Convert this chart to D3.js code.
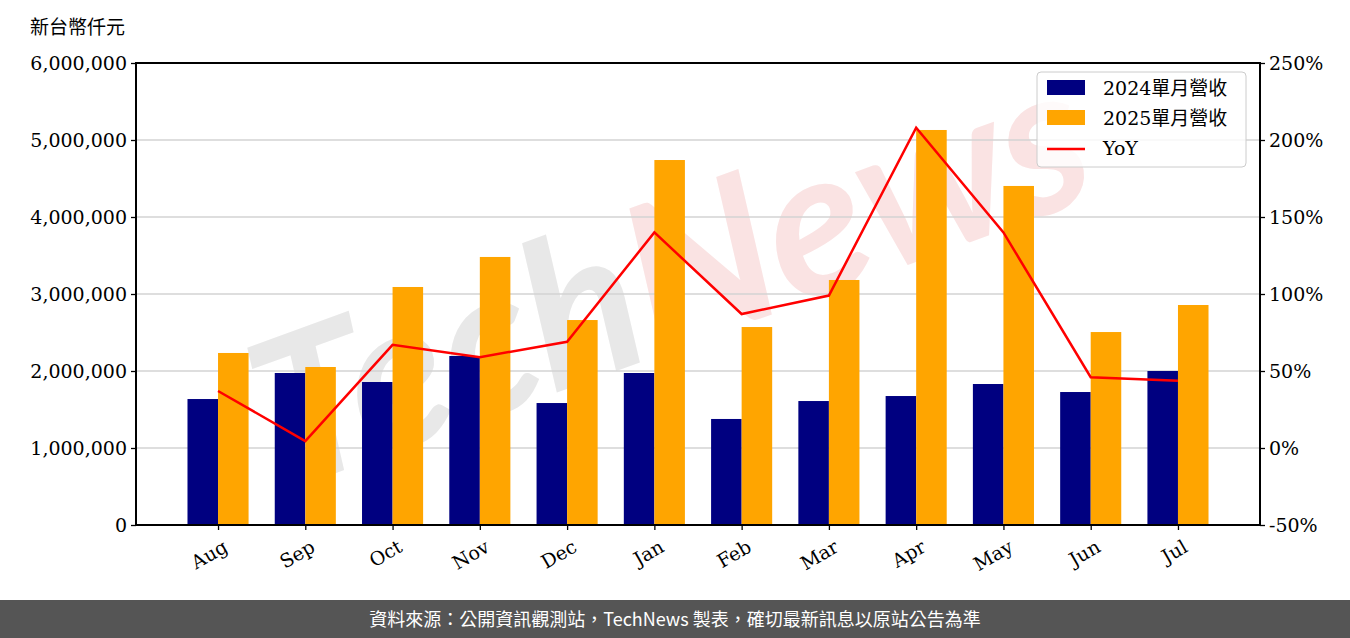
<!DOCTYPE html>
<html><head><meta charset="utf-8">
<script src="https://cdn.jsdelivr.net/npm/d3@7"></script>
<style>body{margin:0;background:#fff}svg{display:block}</style>
</head><body>
<svg id="c" width="1350" height="638"></svg>
<script>
const months = ["Aug","Sep","Oct","Nov","Dec","Jan","Feb","Mar","Apr","May","Jun","Jul"];
const rev2024 = [1636000,1974000,1857000,2195000,1584000,1974000,1377000,1610000,1675000,1831000,1727000,2000000];
const rev2025 = [2234000,2052000,3091000,3481000,2662000,4740000,2571000,3182000,5130000,4403000,2506000,2857000];
const yoy = [37,4.5,67,59,69,140,87,99,208,140,46,43.7];
const leftTicks = [0,1000000,2000000,3000000,4000000,5000000,6000000];
const rightTicks = [-50,0,50,100,150,200,250];
const seriesNames = ["2024單月營收","2025單月營收","YoY"];

const svg = d3.select("#c");
const L=136,R=1260,T=63,B=525;
const x = d3.scaleLinear().domain([-0.94,11.94]).range([L,R]);
const y = d3.scaleLinear().domain([0,6000000]).range([B,T]);
const y2 = d3.scaleLinear().domain([-50,250]).range([B,T]);
const serif = "DejaVu Serif";
const cjk = "'Noto Sans CJK TC'";
const bw = x(0.35)-x(0);

// watermark
const wm = svg.append("text").attr("text-anchor","middle")
 .attr("transform","translate(670,275) rotate(-20)").attr("font-family","Lato").attr("font-weight","bold").attr("font-style","italic")
 .attr("font-size",205).attr("dy","0.35em");
wm.append("tspan").attr("fill","#e8e8e8").text("Tech");
wm.append("tspan").attr("fill","#fae3e3").text("News");

// grid
svg.append("g").selectAll("line").data(leftTicks.slice(1)).join("line")
 .attr("x1",L).attr("x2",R).attr("y1",d=>y(d)).attr("y2",d=>y(d)).attr("stroke","#d3d3d3").attr("stroke-width",1.5);

svg.append("g").selectAll("rect").data(rev2024).join("rect")
 .attr("x",(d,i)=>x(i)-bw).attr("y",d=>y(d)).attr("width",bw).attr("height",d=>B-y(d)).attr("fill","#000080");
svg.append("g").selectAll("rect").data(rev2025).join("rect")
 .attr("x",(d,i)=>x(i)).attr("y",d=>y(d)).attr("width",bw).attr("height",d=>B-y(d)).attr("fill","#FFA500");

svg.append("path").datum(yoy).attr("fill","none").attr("stroke","#FF0000").attr("stroke-width",2.5)
 .attr("d",d3.line().x((d,i)=>x(i)).y(d=>y2(d)));

// axes
const ax = svg.append("g").attr("transform",`translate(${L},0)`)
 .call(d3.axisLeft(y).tickValues(leftTicks).tickFormat(d3.format(",")).tickSize(5).tickPadding(4));
const ax2 = svg.append("g").attr("transform",`translate(${R},0)`)
 .call(d3.axisRight(y2).tickValues(rightTicks).tickFormat(d=>d+"%").tickSize(5).tickPadding(4));
const ax3 = svg.append("g").attr("transform",`translate(0,${B})`)
 .call(d3.axisBottom(x).tickValues(d3.range(12)).tickFormat(i=>months[i]).tickSize(5));
[ax,ax2,ax3].forEach(a=>{a.selectAll("text").attr("font-family",serif).attr("font-size",19).attr("fill","#000");
 a.selectAll("line").attr("stroke","#000").attr("stroke-width",1.3); a.select(".domain").remove();});
ax3.selectAll("text").attr("transform","translate(-2,4) rotate(-30)").attr("text-anchor","end").attr("dy","0.9em");
svg.append("rect").attr("x",L).attr("y",T).attr("width",R-L).attr("height",B-T).attr("fill","none").attr("stroke","#000").attr("stroke-width",2);

svg.append("text").attr("x",30).attr("y",34).attr("font-family",cjk).attr("font-size",19).text("新台幣仟元");

// legend
const lg = svg.append("g").attr("transform","translate(1037,72)");
lg.append("rect").attr("width",209).attr("height",95).attr("rx",4).attr("fill","#fff").attr("fill-opacity",0.8).attr("stroke","#ccc");
const cols=["#000080","#FFA500"];
cols.forEach((c,i)=>lg.append("rect").attr("x",10).attr("y",8+i*30).attr("width",38).attr("height",15).attr("fill",c));
lg.append("line").attr("x1",10).attr("x2",48).attr("y1",77).attr("y2",77).attr("stroke","#f00").attr("stroke-width",2.5);
seriesNames.forEach((s,i)=>lg.append("text").attr("x",66).attr("y",23+i*30).attr("font-family",`${serif},${cjk}`).attr("font-size",19).text(s));

// footer
svg.append("rect").attr("x",0).attr("y",600).attr("width",1350).attr("height",38).attr("fill","#555");
svg.append("text").attr("x",675).attr("y",626).attr("text-anchor","middle").attr("fill","#fff")
 .attr("font-family",cjk).attr("font-size",18).text("資料來源：公開資訊觀測站，TechNews 製表，確切最新訊息以原站公告為準");
</script></body></html>
